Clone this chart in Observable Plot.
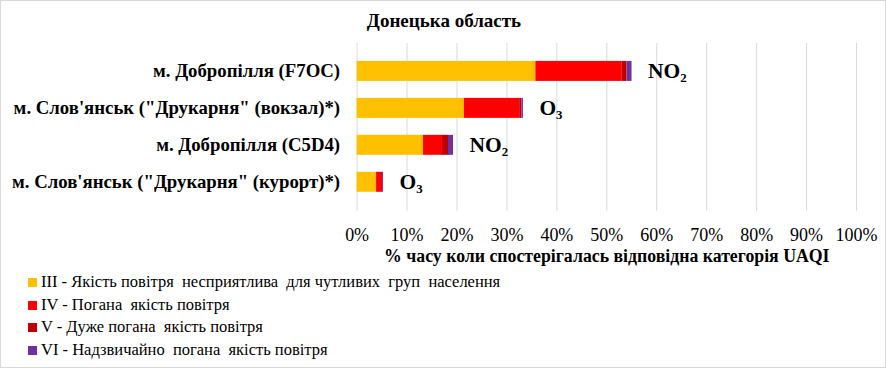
<!DOCTYPE html>
<html>
<head>
<meta charset="utf-8">
<script src="https://cdn.jsdelivr.net/npm/d3@7"></script>
<script src="https://cdn.jsdelivr.net/npm/@observablehq/plot@0.6"></script>
<style>
  html, body { margin: 0; padding: 0; background: #fff; }
  #wrap { position: relative; width: 884px; height: 366px; border: 1px solid #d9d9d9; overflow: hidden; font-family: 'Liberation Serif', serif; }
  #title { position: absolute; left: 0; top: 9px; width: 886px; text-align: center; font-weight: bold; font-size: 19px; color: #000; }
  #chart { position: absolute; left: -1px; top: -1px; }
  #chart svg, #chart svg text, #chart svg g { font-family: 'Liberation Serif', serif !important; }
  #legend { position: absolute; left: 27px; top: 270px; font-size: 16.5px; color: #000; }
  .li { height: 22.7px; line-height: 22.7px; white-space: pre; display: flex; align-items: center; }
  .sw { display: inline-block; width: 9px; height: 9px; margin-right: 4px; }
</style>
</head>
<body>
<div id="wrap">
  <div id="chart"></div>
  <div id="title">Донецька область</div>
  <div id="legend"></div>
</div>
<script>
const stations = [
  "м. Добропілля (F7OC)",
  "м. Слов'янськ (\"Друкарня\" (вокзал)*)",
  "м. Добропілля (C5D4)",
  "м. Слов'янськ (\"Друкарня\" (курорт)*)"
];
const pollutants = ["NO₂", "O₃", "NO₂", "O₃"];
const categories = [
  "III - Якість повітря  несприятлива  для чутливих  груп  населення",
  "IV - Погана  якість повітря",
  "V - Дуже погана  якість повітря",
  "VI - Надзвичайно  погана  якість повітря"
];
const colors = ["#FFC000", "#FF0000", "#C00000", "#7030A0"];
// percent of time per category, per station (order of stations above)
const catIII = [35.8, 21.5, 13.3, 3.9];
const catIV  = [17.3, 11.2, 3.8, 1.2];
const catV   = [0.95, 0.3, 1.2, 0.0];
const catVI  = [1.0, 0.3, 1.0, 0.2];
const xTicks = [0, 10, 20, 30, 40, 50, 60, 70, 80, 90, 100];
const xTitle = "% часу коли спостерігалась відповідна категорія UAQI";

const series = [catIII, catIV, catV, catVI];
const rows = [];
stations.forEach((s, i) => {
  series.forEach((arr, k) => rows.push({station: s, cat: categories[k], value: arr[i]}));
});
const totals = stations.map((s, i) => ({station: s, total: series.reduce((a, arr) => a + arr[i], 0), label: pollutants[i]}));

const serif = "'Liberation Serif', serif";
const plot = Plot.plot({
  width: 886,
  height: 268,
  marginTop: 43,
  marginBottom: 57,
  marginLeft: 357,
  marginRight: 29,
  style: {fontFamily: serif, fontSize: "18px", color: "#000", background: "transparent"},
  x: {domain: [0, 100]},
  y: {domain: stations, padding: 0.45},
  color: {domain: categories, range: colors},
  marks: [
    Plot.ruleX(xTicks, {stroke: "#d9d9d9", strokeWidth: 1}),
    Plot.barX(rows, Plot.stackX({y: "station", x: "value", fill: "cat", order: categories})),
    Plot.text(totals, {x: "total", y: "station", text: "label", dx: 16, textAnchor: "start", fontWeight: "bold", fontSize: 21.5}),
    Plot.axisX(xTicks, {tickSize: 0, tickPadding: 17, tickFormat: d => d + "%", label: null, fontSize: 18}),
    Plot.axisY({tickSize: 0, tickPadding: 17, label: null, fontWeight: "bold", fontSize: 18.8}),
    Plot.text([xTitle], {frameAnchor: "bottom", dy: 45, fontWeight: "bold", fontSize: 17.8, lineAnchor: "middle"})
  ]
});
document.getElementById("chart").appendChild(plot);

const legend = document.getElementById("legend");
categories.forEach((c, i) => {
  const d = document.createElement("div");
  d.className = "li";
  const sw = document.createElement("span");
  sw.className = "sw";
  sw.style.background = colors[i];
  d.appendChild(sw);
  d.appendChild(document.createTextNode(c));
  legend.appendChild(d);
});
</script>
</body>
</html>
